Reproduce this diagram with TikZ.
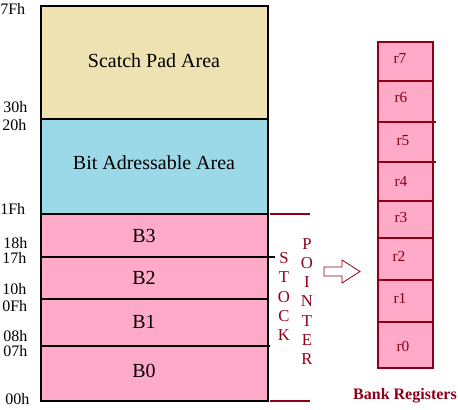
\documentclass[tikz,border=0pt]{standalone}
\usepackage{fontspec}
\setmainfont{Liberation Serif}
\usepackage{tikz}
\usetikzlibrary{positioning}
\usepackage{xcolor}
\definecolor{padtan}{RGB}{238,226,178}
\definecolor{bitblue}{RGB}{155,216,232}
\definecolor{bankpink}{RGB}{255,170,200}
\definecolor{regred}{RGB}{140,0,24}

\begin{document}
\begin{tikzpicture}[x=0.75pt,y=-0.75pt,
  addr/.style={anchor=base west,inner sep=0pt,font=\fontsize{12}{13}\selectfont},
  area/.style={anchor=base,inner sep=0pt,font=\fontsize{15}{18}\selectfont},
  vletter/.style={anchor=base,inner sep=0pt,text=regred,font=\fontsize{12.5}{14}\selectfont},
  reglabel/.style={anchor=base,inner sep=0pt,text=regred,font=\fontsize{11.5}{13}\selectfont}]
  \useasboundingbox (0,0) rectangle (458,410);
  % memory map
  \fill[padtan](41,6)rectangle(268,119);
  \fill[bitblue](41,119)rectangle(268,214);
  \fill[bankpink](41,214)rectangle(268,401);
  \draw[line width=0.8pt](41,6)rectangle(268,401);
  \draw[line width=0.8pt](41,119)--(268,119);
  \draw[line width=0.8pt](41,214)--(268,214);
  \draw[line width=0.8pt](41,257)--(275,257);
  \draw[line width=0.8pt](41,299)--(268,299);
  \draw[line width=0.8pt](41,346)--(270,346);
  \node[area](pad)at(154,68){Scatch Pad Area};
  \node[area](bit)at(154,170){Bit Adressable Area};
  \foreach \nm/\py in {B3/243, B2/285, B1/329, B0/378}
    \node[area](\nm)at(144,\py){\nm};
  \foreach \txt/\px/\py in {7Fh/0/15, 30h/3/113, 20h/2/131, 1Fh/0/215, 18h/3/248,
                            17h/2/263, 10h/2/295, 0Fh/2/311, 08h/3/341, 07h/3/357, 00h/5/405}
    \node[addr](a\txt)at(\px,\py){\txt};
  % stack pointer
  \coordinate(sptop)at(270,214);\coordinate(spbot)at(270,401);
  \draw[regred,line width=0.8pt](sptop)--++(40,0);
  \draw[regred,line width=0.8pt](spbot)--++(40,0);
  \foreach \ch [count=\i from 0] in {S,T,O,C,K}
    \node[vletter](s\i)at(284,264+19*\i){\ch};
  \foreach \ch [count=\i from 0] in {P,O,I,N,T,E,R}
    \node[vletter](p\i)at(307,250+19*\i){\ch};
  \coordinate(arr)at(324,271.5);
  \draw[regred,line width=0.6pt,fill=white](arr)++(0,-4.5)--++(18,0)--++(0,-7)--(360,271.5)
    --(342,283)--++(0,-7)--++(-18,0)--cycle;
  % bank registers
  \fill[bankpink](378,42)rectangle(433,368);
  \draw[regred,line width=0.8pt](378,42)rectangle(433,368);
  \foreach \py in {81,201,238,280,322}
    \draw[regred,line width=0.8pt](378,\py)--(433,\py);
  \foreach \py in {122,162}
    \draw[regred,line width=0.8pt](378,\py)--(436,\py);
  \foreach \nm/\px/\py in {r7/400/64, r6/401/103, r5/403/146, r4/401/187,
                           r3/401/223, r2/399/262, r1/400/304, r0/403/352}
    \node[reglabel](\nm)at(\px,\py){\nm};
  \node[anchor=base,inner sep=0pt,text=regred,font=\bfseries\fontsize{12}{14}\selectfont]
    (banklbl)at(405,399){Bank Registers};
\end{tikzpicture}
\end{document}
